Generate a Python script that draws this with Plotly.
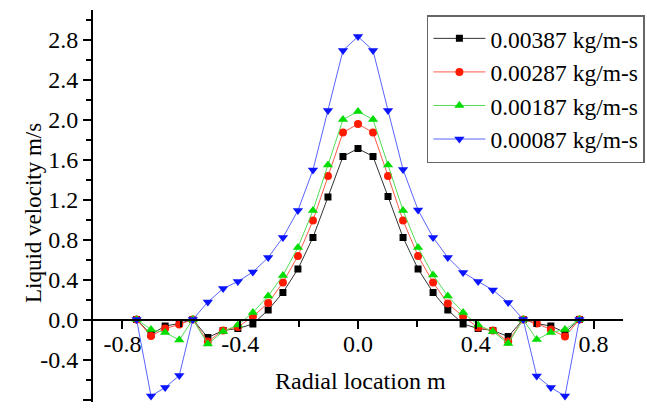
import plotly.graph_objects as go

# Radial location (m)
x_vals = [-0.752, -0.703, -0.655, -0.607, -0.561, -0.510, -0.458, -0.408, -0.357, -0.305,
          -0.255, -0.204, -0.153, -0.102, -0.051, 0.0,
          0.051, 0.102, 0.153, 0.204, 0.255, 0.305, 0.357, 0.408, 0.458, 0.510,
          0.561, 0.607, 0.655, 0.703, 0.752]

# Liquid velocity (m/s) per viscosity
v_00387 = [0.0, -0.15, -0.065, -0.04, 0.0, -0.18, -0.11, -0.09, -0.045, 0.095,
           0.27, 0.505, 0.82, 1.225, 1.63, 1.71,
           1.63, 1.23, 0.82, 0.505, 0.27, 0.095, -0.045, -0.09, -0.11, -0.17,
           0.0, -0.04, -0.065, -0.13, 0.0]
v_00287 = [0.0, -0.165, -0.09, -0.05, 0.0, -0.22, -0.11, -0.075, 0.03, 0.165,
           0.37, 0.635, 0.99, 1.435, 1.87, 1.955,
           1.87, 1.435, 0.99, 0.635, 0.37, 0.16, 0.03, -0.08, -0.11, -0.22,
           0.0, -0.04, -0.10, -0.17, 0.0]
v_00187 = [0.0, -0.10, -0.13, -0.205, 0.0, -0.245, -0.12, -0.055, 0.07, 0.235,
           0.44, 0.72, 1.09, 1.545, 2.0, 2.08,
           2.0, 1.545, 1.09, 0.72, 0.445, 0.235, 0.07, -0.055, -0.12, -0.24,
           0.0, -0.20, -0.13, -0.10, 0.0]
v_00087 = [0.0, -0.765, -0.68, -0.56, 0.0, 0.175, 0.31, 0.38, 0.475, 0.62,
           0.82, 1.09, 1.495, 2.09, 2.69, 2.83,
           2.69, 2.09, 1.50, 1.095, 0.82, 0.62, 0.47, 0.38, 0.295, 0.17,
           0.0, -0.565, -0.68, -0.765, 0.0]

series_names = ["0.00387 kg/m-s", "0.00287 kg/m-s", "0.00187 kg/m-s", "0.00087 kg/m-s"]
series_values = [v_00387, v_00287, v_00187, v_00087]

x_tick_vals = [-0.8, -0.4, 0.0, 0.4, 0.8]
x_tick_text = ["-0.8", "-0.4", "0.0", "0.4", "0.8"]
x_minor_vals = [-0.6, -0.2, 0.2, 0.6]
y_tick_vals = [-0.8, -0.4, 0.0, 0.4, 0.8, 1.2, 1.6, 2.0, 2.4, 2.8]
y_tick_text = ["-0.8", "-0.4", "0.0", "0.4", "0.8", "1.2", "1.6", "2.0", "2.4", "2.8"]
y_minor_vals = [-0.6, -0.2, 0.2, 0.6, 1.0, 1.4, 1.8, 2.2, 2.6, 3.0]

styles = [
    dict(mcol="#000000", lcol="#333333", sym="square", size=7),
    dict(mcol="#ff1a00", lcol="#ff5a4a", sym="circle", size=8),
    dict(mcol="#00dd00", lcol="#55dd55", sym="triangle-up", size=9),
    dict(mcol="#0a14ff", lcol="#5a64ff", sym="triangle-down", size=9),
]

FONT = "Liberation Serif, Times New Roman, serif"

fig = go.Figure()
for name, vals, st in zip(series_names, series_values, styles):
    fig.add_trace(go.Scatter(
        x=x_vals, y=vals, name=name, mode="lines+markers",
        line=dict(color=st["lcol"], width=1),
        marker=dict(symbol=st["sym"], size=st["size"], color=st["mcol"],
                    line=dict(width=0)),
    ))

y_min, y_max = -0.825, 3.095
xpos = (0 - y_min) / (y_max - y_min)

fig.update_layout(
    width=647, height=408,
    margin=dict(l=93, r=24, t=10, b=6, autoexpand=False),
    paper_bgcolor="white", plot_bgcolor="white",
    font=dict(family=FONT, size=24, color="black"),
    showlegend=True,
    legend=dict(
        x=0.630, y=0.987, xanchor="left", yanchor="top",
        bordercolor="#666666", borderwidth=1.5, bgcolor="white",
        font=dict(family=FONT, size=23.5, color="black"),
        tracegroupgap=0, itemsizing="trace", itemwidth=52,
    ),
    xaxis=dict(
        range=[-0.9, 0.9], anchor="free", position=xpos,
        showline=True, linecolor="black", linewidth=2,
        showgrid=False, zeroline=False,
        ticks="outside", ticklen=8, tickwidth=1.5, tickcolor="black",
        tickmode="array", tickvals=x_tick_vals, ticktext=x_tick_text,
        ticklabelstandoff=-5,
        minor=dict(tickvals=x_minor_vals, ticks="outside", ticklen=6,
                   tickwidth=1.5, tickcolor="black"),
        tickfont=dict(family=FONT, size=24, color="black"),
    ),
    yaxis=dict(
        range=[y_min, y_max],
        showline=True, linecolor="black", linewidth=2,
        showgrid=False, zeroline=False,
        ticks="outside", ticklen=8, tickwidth=1.5, tickcolor="black",
        tickmode="array", tickvals=y_tick_vals, ticktext=y_tick_text,
        minor=dict(tickvals=y_minor_vals, ticks="outside", ticklen=5,
                   tickwidth=1.5, tickcolor="black"),
        tickfont=dict(family=FONT, size=24, color="black"),
    ),
    annotations=[
        dict(text="Radial location m", xref="paper", yref="paper",
             x=(360 - 93) / 530, y=1 - (381 - 10) / 392,
             xanchor="center", yanchor="middle", showarrow=False,
             font=dict(family=FONT, size=24, color="black")),
        dict(text="Liquid velocity m/s", xref="paper", yref="paper",
             x=(33 - 93) / 530, y=1 - (213 - 10) / 392, textangle=-90,
             xanchor="center", yanchor="middle", showarrow=False,
             font=dict(family=FONT, size=23, color="black")),
    ],
)

fig.write_html("out.html")
